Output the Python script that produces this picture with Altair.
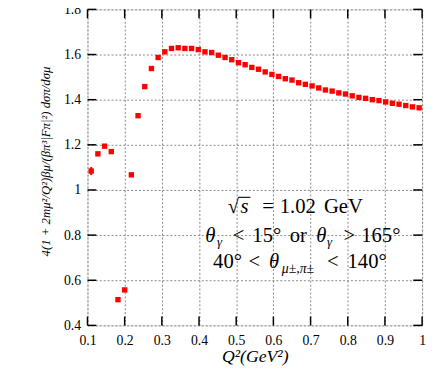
import altair as alt
import pandas as pd

q2 = [0.110, 0.128, 0.146, 0.164, 0.182, 0.200, 0.218, 0.236, 0.254, 0.272,
      0.290, 0.308, 0.326, 0.344, 0.362, 0.380, 0.398, 0.416, 0.434, 0.452,
      0.470, 0.488, 0.506, 0.524, 0.542, 0.560, 0.578, 0.596, 0.614, 0.632,
      0.650, 0.668, 0.686, 0.704, 0.722, 0.740, 0.758, 0.776, 0.794, 0.812,
      0.830, 0.848, 0.866, 0.884, 0.902, 0.920, 0.938, 0.956, 0.974, 0.992]
ratio = [1.084, 1.160, 1.194, 1.170, 0.514, 0.557, 1.067, 1.329, 1.458, 1.538,
         1.587, 1.612, 1.627, 1.630, 1.627, 1.627, 1.622, 1.612, 1.609, 1.597,
         1.587, 1.577, 1.564, 1.555, 1.543, 1.535, 1.523, 1.512, 1.503, 1.493,
         1.487, 1.475, 1.468, 1.461, 1.452, 1.443, 1.438, 1.430, 1.425, 1.417,
         1.410, 1.406, 1.400, 1.396, 1.390, 1.384, 1.380, 1.374, 1.368, 1.364]
err_q2 = [0.110]
err_lo = [1.066]
err_hi = [1.102]

x_ticks = [0.1, 0.2, 0.3, 0.4, 0.5, 0.6, 0.7, 0.8, 0.9, 1.0]
y_ticks = [0.4, 0.6, 0.8, 1.0, 1.2, 1.4, 1.6, 1.8]

x_title = "Q\u00b2(GeV\u00b2)"
y_title = "4(1 + 2m\u03bc\u00b2/Q\u00b2)\u03b2\u03bc/(\u03b2\u03c0\u00b3|F\u03c0|\u00b2) d\u03c3\u03c0/d\u03c3\u03bc"

# annotation text pieces: "√s = 1.02 GeV" / "θγ < 15° or θγ > 165°" / "40° < θμ±,π± < 140°"
ann_txt = ["\u221a", "s", "=", "1.02", "GeV",
           "\u03b8", "\u03b3", "<", "15\u00b0", "or", "\u03b8", "\u03b3", ">", "165\u00b0",
           "40\u00b0", "<", "\u03b8", "\u03bc\u00b1,\u03c0\u00b1", "<", "140\u00b0"]
# layout of the pieces (pixels inside the plot area), size and italic flag
ann_x = [143, 156, 178, 196, 241,
         120, 132, 148, 168, 206, 233, 244, 261, 279,
         128, 164, 185, 198, 244, 265]
ann_y = [207, 207, 207, 207, 207,
         237, 241, 237, 237, 237, 237, 241, 237, 237,
         264, 264, 264, 269, 264, 264]
ann_size = [21, 21, 21, 21, 21,
            21, 13, 21, 21, 21, 21, 13, 21, 21,
            21, 21, 21, 14, 21, 21]
ann_ital = [0, 1, 0, 0, 0,
            1, 1, 0, 0, 0, 1, 1, 0, 0,
            0, 0, 1, 1, 0, 0]

W, H = 341, 322
FONT = "Liberation Serif"

df = pd.DataFrame({"q2": q2, "r": ratio})
df_err = pd.DataFrame({"q2": err_q2, "r": err_lo, "hi": err_hi})
df_xt = pd.DataFrame({"q2": x_ticks})
df_yt = pd.DataFrame({"r": y_ticks})

xscale = alt.Scale(domain=[0.1, 1.0], nice=False, zero=False)
yscale = alt.Scale(domain=[0.4, 1.8], nice=False, zero=False)

xaxis = alt.Axis(values=x_ticks, title=x_title, grid=True, gridDash=[2, 2],
                 gridColor="#666", gridWidth=0.8, ticks=False, domain=False,
                 labelOverlap=False, labelBound=False, labelFlush=False,
                 labelFont=FONT, labelFontSize=14, labelColor="black", labelPadding=8,
                 labelExpr="datum.value == 1 ? '1' : format(datum.value, '.1f')",
                 titleFont=FONT, titleFontSize=18, titleFontWeight="normal",
                 titleFontStyle="italic", titleColor="black", titlePadding=1)
yaxis = alt.Axis(values=y_ticks, title=None,
                 grid=True, gridDash=[2, 2], gridColor="#666", gridWidth=0.8,
                 ticks=False, domain=False,
                 labelOverlap=False, labelBound=False, labelFlush=False,
                 labelFont=FONT, labelFontSize=14, labelColor="black", labelPadding=7,
                 labelExpr="datum.value == 1 ? '1' : format(datum.value, '.1f')")

X = alt.X("q2:Q", scale=xscale, axis=xaxis)
Y = alt.Y("r:Q", scale=yscale, axis=yaxis)

points = alt.Chart(df).mark_square(size=30, color="#ff0000", opacity=1).encode(x=X, y=Y)
errbar = alt.Chart(df_err).mark_rule(color="#ff0000", strokeWidth=2).encode(
    x=X, y=Y, y2="hi:Q")
tick_len = 9
bt = alt.Chart(df_xt).mark_rule(color="black", strokeWidth=1.5).encode(
    x=X, y=alt.value(H), y2=alt.value(H - tick_len))
tt = alt.Chart(df_xt).mark_rule(color="black", strokeWidth=1.5).encode(
    x=X, y=alt.value(0), y2=alt.value(tick_len))
lt = alt.Chart(df_yt).mark_rule(color="black", strokeWidth=1.5).encode(
    y=Y, x=alt.value(0), x2=alt.value(tick_len))
rt = alt.Chart(df_yt).mark_rule(color="black", strokeWidth=1.5).encode(
    y=Y, x=alt.value(W), x2=alt.value(W - tick_len))

ytitle = alt.Chart(pd.DataFrame({"txt": [y_title]})).mark_text(
    font=FONT, fontSize=13, fontStyle="italic", color="black", angle=270,
    align="center", baseline="middle"
).encode(text="txt:N", x=alt.value(-42), y=alt.value(155))

sqrt_bar = alt.Chart(pd.DataFrame({"txt": ["bar"]})).mark_rule(
    color="black", strokeWidth=1.1
).encode(x=alt.value(154), x2=alt.value(166), y=alt.value(191.5))

texts = []
for k in range(len(ann_txt)):
    texts.append(
        alt.Chart(pd.DataFrame({"txt": [ann_txt[k]]})).mark_text(
            font=FONT, fontSize=ann_size[k], color="black", align="left",
            baseline="alphabetic", fontStyle="italic" if ann_ital[k] else "normal"
        ).encode(text="txt:N", x=alt.value(ann_x[k]), y=alt.value(ann_y[k]))
    )

chart = alt.layer(points, bt, tt, lt, rt, errbar, ytitle, sqrt_bar, *texts).properties(
    width=W, height=H,
    autosize=alt.AutoSizeParams(type="none"),
    padding={"left": 81, "top": -2, "right": 6, "bottom": 40},
).configure_view(stroke="black", strokeWidth=1.8).configure_axis(
    labelFont=FONT, titleFont=FONT
).configure(background="white")

chart.save("out.html", embed_options={"renderer": "svg", "actions": False})
